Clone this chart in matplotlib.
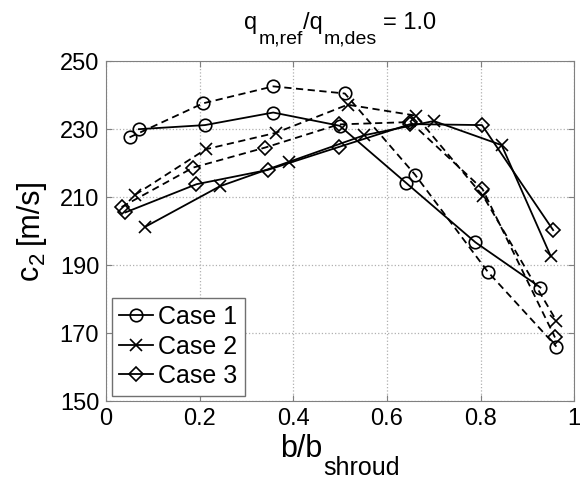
import matplotlib
matplotlib.use("Agg")
import matplotlib.pyplot as plt

plt.rcParams['font.family'] = ['Liberation Sans', 'DejaVu Sans']

# Case 1 (circles)
x_c1_solid = [0.070, 0.211, 0.357, 0.499, 0.640, 0.789, 0.928]
y_c1_solid = [230.0, 231.2, 234.9, 231.0, 214.3, 196.7, 183.4]
x_c1_dash = [0.050, 0.207, 0.357, 0.510, 0.660, 0.815, 0.962]
y_c1_dash = [227.6, 237.6, 242.6, 240.5, 216.6, 188.1, 166.0]

# Case 2 (crosses)
x_c2_solid = [0.084, 0.243, 0.391, 0.551, 0.700, 0.845, 0.950]
y_c2_solid = [201.3, 213.2, 220.4, 228.2, 232.4, 225.3, 192.6]
x_c2_dash = [0.062, 0.213, 0.362, 0.516, 0.661, 0.806, 0.962]
y_c2_dash = [210.7, 224.1, 228.9, 237.2, 234.0, 210.2, 173.6]

# Case 3 (diamonds)
x_c3_solid = [0.041, 0.193, 0.345, 0.498, 0.650, 0.803, 0.955]
y_c3_solid = [205.5, 213.8, 218.0, 224.8, 231.5, 231.2, 200.3]
x_c3_dash = [0.033, 0.186, 0.340, 0.497, 0.650, 0.804, 0.959]
y_c3_dash = [207.1, 218.7, 224.6, 231.4, 232.1, 212.4, 168.7]

x_ticks = [0, 0.2, 0.4, 0.6, 0.8, 1]
x_ticklabels = ['0', '0.2', '0.4', '0.6', '0.8', '1']
y_ticks = [150, 170, 190, 210, 230, 250]

fig = plt.figure(figsize=(5.8, 4.82), dpi=100)
ax = fig.add_axes([0.183, 0.168, 0.807, 0.705])

mk = dict(color='black', linewidth=1.3, markerfacecolor='none',
          markeredgecolor='black', markeredgewidth=1.2)

ax.plot(x_c1_solid, y_c1_solid, '-', marker='o', markersize=9, label='Case 1', **mk)
ax.plot(x_c2_solid, y_c2_solid, '-', marker='x', markersize=8, label='Case 2', **mk)
ax.plot(x_c3_solid, y_c3_solid, '-', marker='D', markersize=7, label='Case 3', **mk)
ax.plot(x_c1_dash, y_c1_dash, '--', marker='o', markersize=9, dashes=(4, 2.5), **mk)
ax.plot(x_c2_dash, y_c2_dash, '--', marker='x', markersize=8, dashes=(4, 2.5), **mk)
ax.plot(x_c3_dash, y_c3_dash, '--', marker='D', markersize=7, dashes=(4, 2.5), **mk)

ax.set_xlim(0, 1)
ax.set_ylim(150, 250)
ax.set_xticks(x_ticks)
ax.set_xticklabels(x_ticklabels)
ax.set_yticks(y_ticks)
ax.grid(True, color='#b0b0b0', linestyle=':', linewidth=0.9)
ax.tick_params(direction='in', top=True, right=True, labelsize=17, length=4,
               color='#808080', pad=5)
for s in ax.spines.values():
    s.set_color('#808080')

leg = ax.legend(loc='lower left', fontsize=18, handlelength=1.35, handletextpad=0.2,
                borderpad=0.3, labelspacing=0.22, fancybox=False, framealpha=1,
                borderaxespad=0.22)
leg.get_frame().set_edgecolor('#707070')
leg.get_frame().set_linewidth(1.0)

# labels with large subscripts (piece text, size, shift down px, gap before px)
renderer = fig.canvas.get_renderer()
W, H = fig.bbox.width, fig.bbox.height


def rich(pieces, center, base, vertical=False):
    widths = []
    for s, size, dy, gap in pieces:
        t = fig.text(0, 0, s, fontsize=size)
        widths.append(t.get_window_extent(renderer).width + gap)
        t.remove()
    total = sum(widths)
    if not vertical:
        cur = center - total / 2
        for (s, size, dy, gap), w in zip(pieces, widths):
            fig.text((cur + gap) / W, 1 - (base + dy) / H, s, fontsize=size,
                     ha='left', va='baseline')
            cur += w
    else:
        cur = center + total / 2
        for (s, size, dy, gap), w in zip(pieces, widths):
            fig.text((base + dy) / W, 1 - (cur - gap) / H, s, fontsize=size,
                     rotation=90, rotation_mode='anchor', ha='left', va='baseline')
            cur -= w


rich([('q', 17, 0, 0), ('m,ref', 14, 14, 1), ('/q', 17, 0, 0),
      ('m,des', 14, 14, 1), ('= 1.0', 17, 0, 6)], 340, 29)
rich([('b/b', 22, 0, 0), ('shroud', 18, 18, 1)], 340, 457)
rich([('c', 22, 0, 0), ('2', 16, 6, 1), ('[m/s]', 22, 0, 8)], 229, 38, vertical=True)

fig.savefig('out.png', dpi=100)
